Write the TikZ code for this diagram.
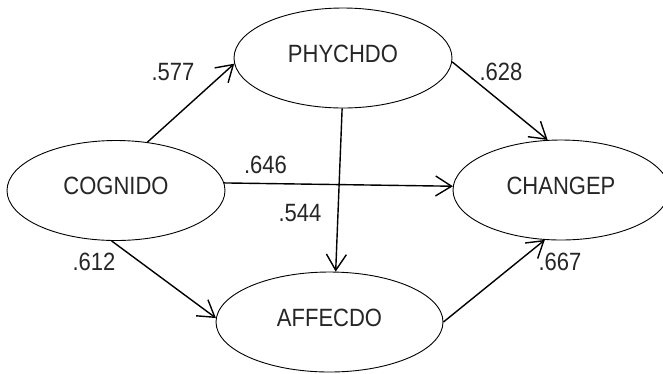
\documentclass[tikz,border=0pt]{standalone}
\usepackage{fontspec}
\setmainfont{Liberation Sans}[FakeStretch=0.88]
\usetikzlibrary{shapes.geometric,arrows.meta}

\begin{document}
\begin{tikzpicture}[
				x=1pt, y=-1pt,
				font=\fontsize{25}{30}\selectfont,
				% latent variables drawn as ellipses
				latent/.style={draw, ellipse, line width=0.9pt, inner sep=0pt,
					minimum width=218pt, minimum height=100pt,
					text height=18pt, text depth=10pt, text=black!85},
				path/.style={-{Straight Barb[length=16pt,width=20pt]}, line width=1.4pt},
				coef/.style={text=black!85, inner sep=0pt}
				]
				\useasboundingbox (0,0) rectangle (663,373);
				\node[latent] (Cognido) at (116,190.5) {COGNIDO};
				\node[latent] (Phychdo) at (343,58) {PHYCHDO};
				\node[latent, minimum width=216pt] (Changep) at (561,190) {CHANGEP};
				\node[latent, minimum width=227pt] (Affecdo) at (329.5,322) {AFFECDO};
				% paths
				\draw [path] (Cognido.57) -- (Phychdo.183);
				\draw [path] (Phychdo.-2) -- (Changep.105);
				\draw [path] (Cognido.4) -- (Changep.178);
				\draw [path] (Phychdo.-91) -- (Affecdo.83);
				\draw [path] (Cognido.-95) -- (Affecdo.178);
				\draw [path] (Affecdo.0) -- (Changep.-108);
				% path coefficients
				\node[coef] (CoefCP) at (173,72) {.577};
				\node[coef] (CoefPC) at (501,72) {.628};
				\node[coef] (CoefCC) at (265.5,165) {.646};
				\node[coef] (CoefPA) at (300,213.5) {.544};
				\node[coef] (CoefCA) at (94,262) {.612};
				\node[coef] (CoefAC) at (560,262) {.667};
			\end{tikzpicture}
\end{document}
